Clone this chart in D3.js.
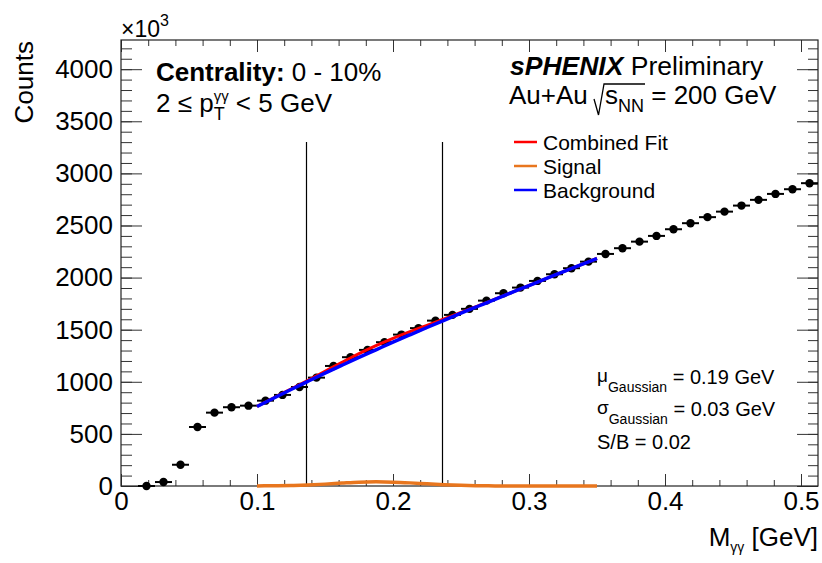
<!DOCTYPE html>
<html>
<head>
<meta charset="utf-8">
<script src="https://cdn.jsdelivr.net/npm/d3@7"></script>
<style>
  body { margin: 0; background: #fff; }
  svg { display: block; font-family: "Liberation Sans", Arial, Helvetica, sans-serif; }
  text { white-space: pre; }
</style>
</head>
<body>
<div id="chart"></div>
<script>
// diphoton mass bin centres (GeV), bins are 0.0125 GeV wide
const massBins = [0.01875, 0.03125, 0.04375, 0.05625, 0.06875, 0.08125, 0.09375, 0.10625, 0.11875, 0.13125,
    0.14375, 0.15625, 0.16875, 0.18125, 0.19375, 0.20625, 0.21875, 0.23125, 0.24375, 0.25625,
    0.26875, 0.28125, 0.29375, 0.30625, 0.31875, 0.33125, 0.34375, 0.35625, 0.36875, 0.38125,
    0.39375, 0.40625, 0.41875, 0.43125, 0.44375, 0.45625, 0.46875, 0.48125, 0.49375, 0.50625];
const binHalfWidth = 0.00625;
// counts in units of 10^3
const counts = [0, 38, 204, 566, 704, 756, 771, 819, 874, 950,
    1040, 1152, 1236, 1306, 1380, 1453, 1515, 1587, 1642, 1700,
    1779, 1850, 1904, 1968, 2032, 2090, 2153, 2227, 2282, 2345,
    2400, 2464, 2522, 2580, 2633, 2691, 2746, 2803, 2848, 2906];

// fit curves (fit range 0.1 - 0.35 GeV)
const fitMass = [0.1, 0.1125, 0.125, 0.1375, 0.15, 0.1625, 0.175, 0.1875, 0.2, 0.2125, 0.225,
    0.2375, 0.25, 0.2625, 0.275, 0.2875, 0.3, 0.3125, 0.325, 0.3375, 0.35];
const fitBackground = [763, 845, 926, 1005, 1083, 1159, 1234, 1307, 1380, 1451, 1521,
    1590, 1658, 1725, 1792, 1858, 1924, 1990, 2055, 2120, 2184];
const fitSignal = [1, 2, 5, 10, 18, 28, 37, 40, 37, 30, 21,
    13, 7, 3, 1, 0, 0, 0, 0, 0, 0];
const fitCombined = [764, 847, 931, 1015, 1101, 1187, 1271, 1347, 1417, 1481, 1542,
    1603, 1665, 1728, 1793, 1858, 1924, 1990, 2055, 2120, 2184];

// signal window markers
const windowEdges = [0.136, 0.236];
const windowTop = 3300;

const xTicks = [0, 0.1, 0.2, 0.3, 0.4, 0.5];
const yTicks = [0, 500, 1000, 1500, 2000, 2500, 3000, 3500, 4000];
const legendLabels = ['Combined Fit', 'Signal', 'Background'];
const statLines = [
    {sym: 'μ', value: ' = 0.19 GeV'},
    {sym: 'σ', value: ' = 0.03 GeV'}
];
const sbText = 'S/B = 0.02';

const colors = {combined: '#ff0000', signal: '#e8761e', background: '#0000ff'};

const W = 822, H = 563;
const margin = {top: 40, right: 4, bottom: 77, left: 121};

const svg = d3.select('#chart').append('svg')
    .attr('width', W).attr('height', H);

const x = d3.scaleLinear().domain([0, 0.5125]).range([margin.left, W - margin.right]);
const y = d3.scaleLinear().domain([0, 4280]).range([H - margin.bottom, margin.top]);

const fLeft = margin.left, fRight = W - margin.right, fTop = margin.top, fBottom = H - margin.bottom;

// minor tick positions
const xMinor = d3.range(0, 26).map(i => +(i * 0.02).toFixed(2)).filter(v => v <= 0.5125);
const yMinor = d3.range(0, 43).map(i => i * 100);

function cleanAxis(g) {
    g.select('.domain').remove();
    g.selectAll('.tick line').attr('stroke', '#333').attr('stroke-width', 1);
    g.selectAll('text').attr('fill', '#000').attr('font-size', 26)
        .attr('font-family', '"Liberation Sans", Arial, Helvetica, sans-serif');
}

// left axis
svg.append('g').attr('transform', `translate(${fLeft},0)`)
    .call(d3.axisLeft(y).tickValues(yMinor).tickSizeInner(-11).tickSizeOuter(0).tickFormat(''))
    .call(cleanAxis);
svg.append('g').attr('transform', `translate(${fLeft},0)`)
    .call(d3.axisLeft(y).tickValues(yTicks).tickSizeInner(-21).tickSizeOuter(0).tickPadding(8)
        .tickFormat(d3.format('d')))
    .call(cleanAxis);
// right axis (mirror)
svg.append('g').attr('transform', `translate(${fRight},0)`)
    .call(d3.axisLeft(y).tickValues(yMinor).tickSizeInner(10).tickSizeOuter(0).tickFormat(''))
    .call(cleanAxis);
svg.append('g').attr('transform', `translate(${fRight},0)`)
    .call(d3.axisLeft(y).tickValues(yTicks).tickSizeInner(21).tickSizeOuter(0).tickFormat(''))
    .call(cleanAxis);
// bottom axis
svg.append('g').attr('transform', `translate(0,${fBottom})`)
    .call(d3.axisBottom(x).tickValues(xMinor).tickSizeInner(-6).tickSizeOuter(0).tickFormat(''))
    .call(cleanAxis);
svg.append('g').attr('transform', `translate(0,${fBottom})`)
    .call(d3.axisBottom(x).tickValues(xTicks).tickSizeInner(-12).tickSizeOuter(0).tickPadding(6)
        .tickFormat(d => d === 0 ? '0' : d3.format('.1f')(d)))
    .call(cleanAxis);
// top axis (mirror)
svg.append('g').attr('transform', `translate(0,${fTop})`)
    .call(d3.axisBottom(x).tickValues(xMinor).tickSizeInner(6).tickSizeOuter(0).tickFormat(''))
    .call(cleanAxis);
svg.append('g').attr('transform', `translate(0,${fTop})`)
    .call(d3.axisBottom(x).tickValues(xTicks).tickSizeInner(12).tickSizeOuter(0).tickFormat(''))
    .call(cleanAxis);

// frame
svg.append('rect')
    .attr('x', fLeft).attr('y', fTop)
    .attr('width', fRight - fLeft).attr('height', fBottom - fTop)
    .attr('fill', 'none').attr('stroke', '#222').attr('stroke-width', 1.2);

// signal window lines
svg.selectAll('.window').data(windowEdges).enter().append('line')
    .attr('class', 'window')
    .attr('x1', d => Math.round(x(d)) + 0.5).attr('x2', d => Math.round(x(d)) + 0.5)
    .attr('y1', y(windowTop)).attr('y2', y(0))
    .attr('stroke', '#000').attr('stroke-width', 1.2);

// data points
const points = massBins.map((m, i) => ({m: m, c: counts[i]}));
svg.selectAll('.xerr').data(points).enter().append('line')
    .attr('class', 'xerr')
    .attr('x1', d => x(d.m - binHalfWidth)).attr('x2', d => x(d.m + binHalfWidth))
    .attr('y1', d => y(d.c)).attr('y2', d => y(d.c))
    .attr('stroke', '#000').attr('stroke-width', 2);
svg.selectAll('.pt').data(points).enter().append('circle')
    .attr('class', 'pt')
    .attr('cx', d => x(d.m)).attr('cy', d => y(d.c)).attr('r', 4.2)
    .attr('fill', '#000');

// fit curves
function fitLine(vals) {
    return d3.line()
        .x((d, i) => x(fitMass[i]))
        .y(d => y(d))
        .curve(d3.curveMonotoneX)(vals);
}
svg.append('path').attr('d', fitLine(fitCombined))
    .attr('fill', 'none').attr('stroke', colors.combined).attr('stroke-width', 3);
svg.append('path').attr('d', fitLine(fitSignal))
    .attr('fill', 'none').attr('stroke', colors.signal).attr('stroke-width', 3.5);
svg.append('path').attr('d', fitLine(fitBackground))
    .attr('fill', 'none').attr('stroke', colors.background).attr('stroke-width', 3.5);

// text with sub/superscripts; each piece is its own <text>
function richText(g, x0, y0, segs) {
    let cx = x0, lastStart = x0, lastEnd = x0;
    segs.forEach(s => {
        const sx = s.stack ? lastStart : cx;
        const t = g.append('text')
            .attr('x', sx).attr('y', y0 + (s.dy || 0))
            .attr('font-size', s.size)
            .attr('font-weight', s.bold ? 'bold' : null)
            .attr('font-style', s.italic ? 'italic' : null)
            .attr('fill', '#000')
            .text(s.text);
        const w = t.node().getComputedTextLength();
        if (s.stack) {
            cx = Math.max(lastEnd, sx + w);
        } else {
            lastStart = sx;
            lastEnd = sx + w;
            cx = sx + w;
        }
        cx += s.gap || 0;
    });
    return cx;
}

// x10^3 exponent
richText(svg, 121, 37, [
    {text: '×10', size: 23},
    {text: '3', size: 16, dy: -11}
]);

// y title
svg.append('text')
    .attr('transform', 'translate(33,41) rotate(-90)')
    .attr('text-anchor', 'end')
    .attr('font-size', 26)
    .text('Counts');

// x title, right aligned to the frame
const xt = svg.append('g');
const xtEnd = richText(xt, 0, 546, [
    {text: 'M', size: 26},
    {text: 'γγ', size: 14, dy: 6},
    {text: ' [GeV]', size: 26}
]);
xt.attr('transform', `translate(${fRight - xtEnd},0)`);

// centrality / pT labels
richText(svg, 156, 81, [
    {text: 'Centrality:', size: 26, bold: true},
    {text: ' 0 - 10%', size: 26}
]);
richText(svg, 156, 112, [
    {text: '2 ≤ p', size: 26},
    {text: 'γγ', size: 15, dy: -11},
    {text: 'T', size: 18, dy: 8, stack: true},
    {text: ' < 5 GeV', size: 26}
]);

// experiment label
richText(svg, 510, 75, [
    {text: 'sPHENIX', size: 26.5, bold: true, italic: true},
    {text: ' Preliminary', size: 26.5}
]);
const auY = 104;
const auEnd = richText(svg, 509, auY, [{text: 'Au+Au ', size: 26}]);
const rootStart = auEnd + 10;
const rootEnd = richText(svg, rootStart, auY, [
    {text: 's', size: 26},
    {text: 'NN', size: 18, dy: 8}
]);
svg.append('path')
    .attr('d', `M${auEnd - 1},${auY - 5} L${auEnd + 3.5},${auY + 11} L${auEnd + 9},${auY - 20} L${rootEnd + 1},${auY - 20}`)
    .attr('fill', 'none').attr('stroke', '#000').attr('stroke-width', 1.3);
richText(svg, rootEnd, auY, [{text: ' = 200 GeV', size: 26}]);

// legend
const legendColors = [colors.combined, colors.signal, colors.background];
const legend = svg.append('g');
legendLabels.forEach((lab, i) => {
    const ly = 142 + i * 24;
    legend.append('line')
        .attr('x1', 514).attr('x2', 537).attr('y1', ly).attr('y2', ly)
        .attr('stroke', legendColors[i]).attr('stroke-width', 2.5);
    legend.append('text')
        .attr('x', 543).attr('y', ly + 7.5)
        .attr('font-size', 21)
        .text(lab);
});

// fit parameters
statLines.forEach((s, i) => {
    richText(svg, 597, 384 + i * 32, [
        {text: s.sym, size: 19, dy: -2},
        {text: 'Gaussian', size: 14, dy: 8},
        {text: s.value, size: 20}
    ]);
});
svg.append('text').attr('x', 597).attr('y', 449)
    .attr('font-size', 20).text(sbText);
</script>
</body>
</html>
